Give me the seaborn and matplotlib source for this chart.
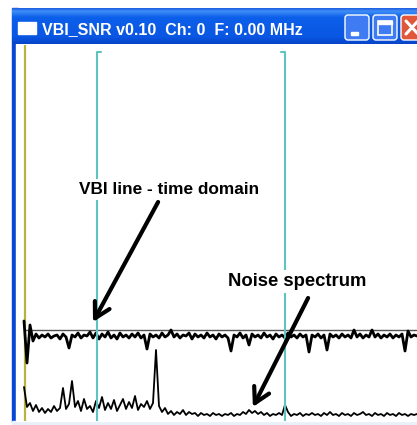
"""
plot.py
--------------------
VBI_SNR window: VBI line (time domain) and noise spectrum traces.
"""

import numpy as np
import matplotlib
matplotlib.use("Agg")
import matplotlib.pyplot as plt
import seaborn as sns
from matplotlib.patches import Rectangle, FancyBboxPatch
from matplotlib.colors import LinearSegmentedColormap

sns.set_theme(style="white")
plt.rcParams["font.family"] = ["Liberation Sans", "DejaVu Sans"]

# === DATA ===
window_title = "VBI_SNR v0.10  Ch: 0  F: 0.00 MHz"
time_label = "VBI line - time domain"
spec_label = "Noise spectrum"

# time domain trace, one value per sample (level units)
time_trace = [
    100, 58, 96, 80, 87, 83, 86, 84, 87, 83, 85, 86, 82, 87, 84, 73, 86, 84, 88, 83,
    86, 85, 89, 83, 88, 82, 87, 84, 89, 83, 86, 82, 88, 84, 86, 83, 87, 84, 88, 83,
    86, 72, 87, 84, 86, 83, 88, 84, 86, 91, 84, 87, 83, 86, 85, 88, 82, 87, 84, 86,
    83, 88, 84, 86, 82, 87, 84, 86, 83, 70, 86, 84, 88, 83, 86, 76, 87, 84, 86, 83,
    88, 84, 86, 82, 87, 84, 86, 83, 88, 84, 86, 83, 87, 84, 86, 69, 86, 84, 87, 83,
    86, 71, 87, 84, 86, 83, 87, 84, 86, 83, 91, 84, 87, 83, 86, 84, 91, 84, 87, 83,
    86, 84, 87, 83, 86, 84, 87, 70, 90, 84, 86, 85,
]

# noise spectrum, one value per bin
noise_spectrum = [
    34, 14, 18, 10, 16, 9, 13, 8, 12, 9, 15, 10, 13, 33, 12, 17, 40, 14, 20, 10,
    22, 12, 15, 9, 20, 13, 24, 11, 18, 12, 21, 10, 16, 22, 12, 19, 13, 25, 11, 17,
    14, 20, 12, 18, 71, 15, 9, 13, 7, 10, 6, 9, 7, 11, 6, 9, 7, 8, 5, 8,
    6, 7, 5, 8, 6, 7, 5, 7, 6, 8, 5, 7, 6, 9, 7, 11, 8, 10, 7, 9,
    6, 8, 5, 7, 6, 8, 6, 16, 9, 5, 7, 6, 8, 5, 7, 6, 8, 6, 7, 5,
    8, 6, 9, 6, 7, 5, 8, 6, 7, 5, 8, 6, 7, 9, 6, 7, 5, 8, 6, 7,
    5, 8, 6, 7, 5, 8, 6, 7, 5, 7, 6, 7,
]

ref_level = 91            # horizontal reference line
cursor_pos = [24.3, 87.0]  # cyan cursors (sample index)
cursor_dir = [1, -1]       # bracket hook direction
start_marker = 0.2         # yellow start-of-line marker

# === FIGURE ===
W, H = 417, 425
fig = plt.figure(figsize=(W / 100, H / 100), dpi=100)
fig.patch.set_facecolor("white")

# window chrome, pixel coordinates
bg = fig.add_axes([0, 0, 1, 1])
bg.set_xlim(0, W)
bg.set_ylim(H, 0)
bg.axis("off")

bg.add_patch(Rectangle((12, 8), 6, 414, color="#0846d6", zorder=1))
bg.add_patch(Rectangle((12, 421), W - 12, 4, color="#e9f0fa", zorder=1))
bg.add_patch(Rectangle((16, 44), W - 16, 377, color="white", zorder=2))

cmap = LinearSegmentedColormap.from_list(
    "xp", [(0, "#1f5fe0"), (0.08, "#3f8ef8"), (0.25, "#0c5fea"),
           (0.8, "#0a57e4"), (1, "#0744c8")])
grad = np.linspace(0, 1, 64).reshape(-1, 1)
bg.imshow(grad, cmap=cmap, aspect="auto", extent=(12, W, 44, 8), zorder=3)

bg.add_patch(Rectangle((18, 22), 18, 12, color="white", zorder=4))
bg.text(42, 34, window_title, color="white", fontsize=11.5, fontweight="bold",
        ha="left", va="baseline", zorder=4)

for x0, fc in [(345, "#3f7bf2"), (373, "#3f7bf2"), (401, "#e0573a")]:
    bg.add_patch(FancyBboxPatch((x0, 15), 24, 25, boxstyle="round,pad=0,rounding_size=3",
                                facecolor=fc, edgecolor="white", lw=1, zorder=4))
bg.add_patch(Rectangle((351, 32), 7, 3, color="white", zorder=5))
bg.add_patch(Rectangle((378, 21), 14, 14, fill=False, edgecolor="white", lw=1.2, zorder=5))
bg.add_patch(Rectangle((378, 21), 14, 3, color="white", zorder=5))
bg.plot([406, 418], [21, 34], color="white", lw=2.2, zorder=5)
bg.plot([406, 418], [34, 21], color="white", lw=2.2, zorder=5)

# plot area (client region)
ax = fig.add_axes([16 / W, (H - 421) / H, (W - 16) / W, (421 - 45) / H])
ax.set_xlim(-8 / 3, 131)
ax.set_ylim(0, 376)
ax.axis("off")
ax.patch.set_alpha(0)

ax.vlines(start_marker, 0, 376, color="#b8b23e", lw=1.6, zorder=2)
ax.hlines(ref_level, 0, len(time_trace) - 1, color="#555555", lw=1.0, zorder=2)

sns.lineplot(x=np.arange(len(time_trace)), y=time_trace, ax=ax, color="black",
             linewidth=2.0, estimator=None, zorder=3)
sns.lineplot(x=np.arange(len(noise_spectrum)), y=noise_spectrum, ax=ax, color="black",
             linewidth=1.3, estimator=None, zorder=3)

for c, d in zip(cursor_pos, cursor_dir):
    ax.vlines(c, 0, 369, color="#5ec4c0", lw=1.5, zorder=4)
    ax.plot([c, c + 1.5 * d], [369, 369], color="#5ec4c0", lw=1.5, zorder=4)

box = dict(facecolor="white", edgecolor="none", pad=2)
ax.text(18.3, 227, time_label, fontsize=12.4, fontweight="bold", ha="left",
        va="baseline", color="black", bbox=box, zorder=5)
ax.text(68.1, 135, spec_label, fontsize=13.3, fontweight="bold", ha="left",
        va="baseline", color="black", bbox=box, zorder=5)

arrow = dict(arrowstyle="->,head_length=0.9,head_width=0.5", lw=3.0,
             color="black", shrinkA=0, shrinkB=0)
ax.annotate("", xy=(23, 99), xytext=(44.7, 219), arrowprops=arrow, zorder=6)
ax.annotate("", xy=(76.3, 14), xytext=(94.7, 123), arrowprops=arrow, zorder=6)

fig.savefig("out.png", dpi=100)
